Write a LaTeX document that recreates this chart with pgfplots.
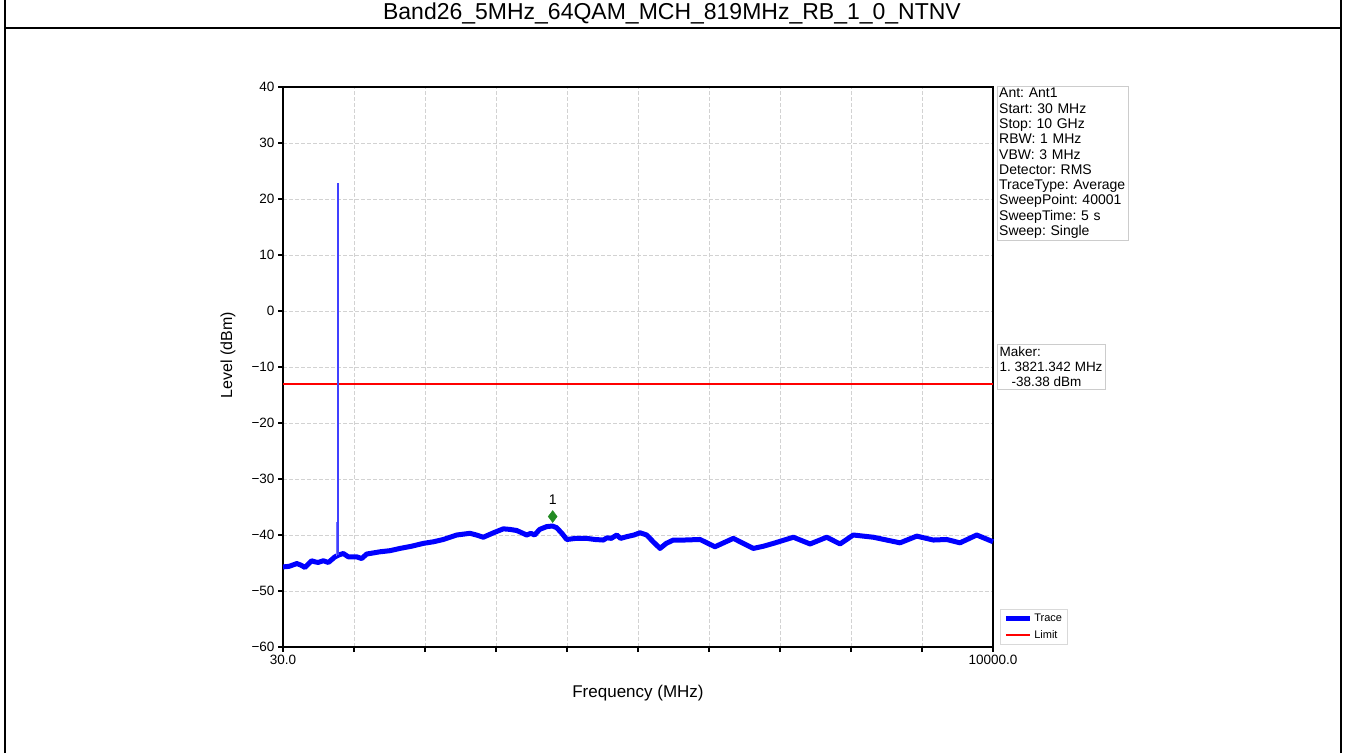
\documentclass[border=0pt]{standalone}
\usepackage{pgfplots}
\pgfplotsset{compat=1.18}
\usepackage{fontspec}
\setmainfont{Liberation Sans}
\frenchspacing

\definecolor{tracec}{RGB}{0,0,255}
\definecolor{limitc}{RGB}{255,0,0}
\definecolor{markc}{RGB}{34,139,34}

\begin{document}
\begin{tikzpicture}
\path[use as bounding box] (0pt,0pt) rectangle (1345pt,753pt);
% table frame
\draw[line width=2.5pt] (5pt,0pt) -- (5pt,753pt);
\draw[line width=2.5pt] (1341pt,0pt) -- (1341pt,753pt);
\draw[line width=2.5pt] (5pt,725pt) -- (1341pt,725pt);
\node[font=\fontsize{23}{25}\selectfont] at (672pt,740pt) {Band26\_5MHz\_64QAM\_MCH\_819MHz\_RB\_1\_0\_NTNV};

\begin{axis}[
    at={(283pt,106pt)}, anchor=south west,
    width=710pt, height=560pt, scale only axis,
    xmode=log, xmin=30, xmax=10000, ymin=-60, ymax=40,
    xtick={30,53.63,95.87,171.37,306.35,547.63,978.95,1749.96,3128.3,5592.0,10000},
    xticklabels={30.0,,,,,,,,,,10000.0},
    ytick={-60,-50,-40,-30,-20,-10,0,10,20,30,40},
    yticklabels={−60,−50,−40,−30,−20,−10,0,10,20,30,40},
    xtick pos=left, ytick pos=left, tick align=outside,
    major tick length=5pt,
    tick style={black, line width=1.2pt},
    axis line style={black, line width=1.3pt},
    ticklabel style={font=\fontsize{13.5}{13.5}\selectfont},
    grid=major,
    major grid style={gray!35, line width=0.8pt, dash pattern=on 4pt off 2pt},
    xlabel={Frequency (MHz)},
    ylabel={Level (dBm)},
    xlabel style={font=\fontsize{17}{17}\selectfont, at={(axis description cs:0.5,-0.082)}, anchor=center},
    ylabel style={font=\fontsize{16}{16}\selectfont, at={(axis description cs:-0.0775,0.521)}, anchor=center},
    legend style={at={(rel axis cs:1.01,0.004)}, anchor=south west,
        draw=gray!30, font=\fontsize{11}{11}\selectfont, row sep=3pt,
        inner sep=3pt},
    legend cell align=left,
    legend image code/.code={\draw[#1] (0pt,0pt) -- (24pt,0pt);},
    clip=false,
]
\addplot[tracec, line width=5pt, line join=round] coordinates {
(30,-45.7) (31.5,-45.6) (33.6,-45.1) (34.8,-45.4) (35.9,-45.8) (37.9,-44.6)
(39,-44.8) (40,-44.9) (41.7,-44.6) (43.5,-44.9) (45.9,-43.9) (47.2,-43.6)
(49.1,-43.3) (51.2,-43.9) (54.8,-43.9) (57.1,-44.2) (59.5,-43.4) (66.3,-43.0)
(72,-42.8) (78.1,-42.4) (86,-42.0) (94.5,-41.5) (103,-41.2) (111.4,-40.8)
(124.3,-40.0) (138.5,-39.7) (146,-40.0) (154.5,-40.4) (168,-39.6) (182,-38.9)
(192,-39.0) (203.1,-39.2) (220.3,-40.0) (228,-39.7) (235,-40.0) (245,-39.0)
(259.5,-38.5) (272,-38.4) (281.6,-38.7) (295,-39.8) (305.6,-40.8) (330,-40.6)
(360,-40.6) (385,-40.8) (412.4,-40.9) (425,-40.5) (440,-40.6) (460.3,-40.0)
(475,-40.6) (499.5,-40.3) (530,-40.0) (556.8,-39.6) (588,-40.0) (620,-41.2)
(655.8,-42.4) (690,-41.5) (731.2,-40.9) (800,-40.9) (909.8,-40.8) (1028,-42.1)
(1195,-40.6) (1407,-42.4) (1530,-42.0) (1658,-41.5) (1953,-40.4) (2238,-41.6)
(2565,-40.4) (2860,-41.6) (3189,-40.0) (3757,-40.4) (4673,-41.4) (5358,-40.2)
(6137,-40.9) (6848,-40.8) (7633,-41.4) (8751,-40.0) (10000,-41.2)
};
\addlegendentry{Trace}
\addplot[limitc, line width=1.5pt] coordinates {(30,-13) (10000,-13)};
\addlegendentry{Limit}
% spike
\addplot[tracec!75, line width=2pt, forget plot] coordinates {(47.2,-43.6) (47.2,22.9)};
\addplot[tracec!55, line width=1.2pt, forget plot] coordinates {(46.5,-43.8) (46.5,-37.6)};
% marker
\addplot[only marks, mark=diamond*, mark size=6pt, markc, forget plot] coordinates {(272.5,-36.7)};
\node[font=\fontsize{14}{14}\selectfont, anchor=south] at (axis cs:272.5,-35.2) {1};
\end{axis}

% info boxes
\node[draw=gray!40, fill=white, anchor=north west, align=left, inner sep=2pt,
      font=\fontsize{14}{15.3}\selectfont, text width=127pt] at (997pt,667pt)
{Ant: Ant1\\Start: 30 MHz\\Stop: 10 GHz\\RBW: 1 MHz\\VBW: 3 MHz\\Detector: RMS\\TraceType: Average\\SweepPoint: 40001\\SweepTime: 5 s\\Sweep: Single};
\node[draw=gray!40, fill=white, anchor=north west, align=left, inner sep=2.5pt,
      font=\fontsize{13.5}{15}\selectfont] at (997pt,409pt)
{Maker:\\1. 3821.342 MHz\\\hspace*{12pt}-38.38 dBm};
\end{tikzpicture}
\end{document}
